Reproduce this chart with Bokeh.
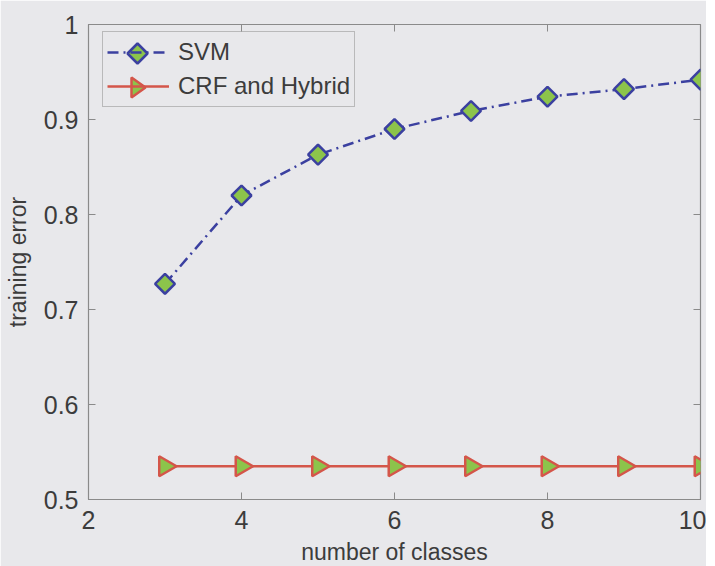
import numpy as np
from bokeh.plotting import figure
from bokeh.models import (LinearAxis, FixedTicker, Legend, LegendItem,
                          CustomJSTickFormatter, PolyAnnotation)
from bokeh.embed import file_html
from bokeh.resources import INLINE

classes = [3, 4, 5, 6, 7, 8, 9, 10]
svm_error = [0.727, 0.820, 0.863, 0.890, 0.909, 0.924, 0.932, 0.942]
crf_error = [0.535, 0.535, 0.535, 0.535, 0.535, 0.535, 0.535, 0.535]
x_ticks = [2, 4, 6, 8, 10]
y_ticks = [0.5, 0.6, 0.7, 0.8, 0.9, 1.0]
y_tick_labels = {0.5: "0.5", 0.6: "0.6", 0.7: "0.7", 0.8: "0.8", 0.9: "0.9", 1.0: "1"}

BG = "#e8e8eb"
TXT = "#3c3c3c"
AX = "#8a8a8a"
FONT = "Liberation Sans"
SVM_C = "#3b40a0"
CRF_C = "#d4564a"
FILL = "#8cc44b"

FW, FH = 612, 475
LEFT, TOP = 88, 24

p = figure(frame_width=FW, frame_height=FH, x_range=(2, 10), y_range=(0.5, 1.0),
           output_backend="svg", toolbar_location=None,
           background_fill_color=BG, border_fill_color=BG,
           min_border_left=LEFT, min_border_top=TOP, min_border_right=6, min_border_bottom=66)
p.xgrid.visible = False
p.ygrid.visible = False
p.outline_line_color = AX
p.outline_line_width = 1.2

for ax in [p.xaxis[0], p.yaxis[0]]:
    ax.major_tick_in = 7
    ax.major_tick_out = 0
    ax.minor_tick_in = 0
    ax.minor_tick_out = 0
    ax.axis_line_color = AX
    ax.major_tick_line_color = AX
    ax.major_label_text_font = FONT
    ax.major_label_text_font_size = "25px"
    ax.major_label_text_color = TXT
    ax.axis_label_text_font = FONT
    ax.axis_label_text_font_size = "23px"
    ax.axis_label_text_font_style = "normal"
    ax.axis_label_text_color = TXT

p.xaxis[0].ticker = FixedTicker(ticks=x_ticks)
p.yaxis[0].ticker = FixedTicker(ticks=y_ticks)
p.yaxis[0].major_label_overrides = y_tick_labels
p.xaxis[0].axis_label = "number of classes"
p.yaxis[0].axis_label = "training error"
p.xaxis[0].major_label_standoff = 11
p.xaxis[0].axis_label_standoff = 7
p.yaxis[0].major_label_standoff = 10
p.yaxis[0].axis_label_standoff = 10

blank = CustomJSTickFormatter(code="return ''")
top = LinearAxis(ticker=FixedTicker(ticks=x_ticks), major_tick_in=7, major_tick_out=0,
                 minor_tick_in=0, minor_tick_out=0, formatter=blank,
                 axis_line_color=None, major_tick_line_color=AX, major_label_standoff=0)
right = LinearAxis(ticker=FixedTicker(ticks=y_ticks), major_tick_in=7, major_tick_out=0,
                   minor_tick_in=0, minor_tick_out=0, formatter=blank,
                   axis_line_color=None, major_tick_line_color=AX, major_label_standoff=0)
p.add_layout(top, "above")
p.add_layout(right, "right")

l1 = p.line(classes, svm_error, line_color=SVM_C, line_width=2.5, line_dash="11 5 2 5")
m1 = p.scatter(classes, svm_error, marker="square", angle=np.pi / 4, size=14, line_color=SVM_C,
               line_width=2.5, fill_color=FILL)
l2 = p.line(classes, crf_error, line_color=CRF_C, line_width=2.5)
m2 = p.scatter(classes, crf_error, marker="triangle", angle=-np.pi / 2, size=20,
               line_color=CRF_C, line_width=2.5, fill_color=FILL)

# legend (glyph markers drawn separately because Bokeh legends ignore marker angle)
PAD, ROW, SP, GW = 4, 32, 2, 62
LEG_H = 2 * PAD + 2 * ROW + SP
LX, LY_TOP = 14, 9
legend = Legend(items=[LegendItem(label="SVM", renderers=[l1]),
                       LegendItem(label="CRF and Hybrid", renderers=[l2])],
                location=(LX, FH - LY_TOP - LEG_H))
legend.margin = 0
legend.padding = PAD
legend.spacing = SP
legend.glyph_width = GW
legend.glyph_height = ROW
legend.label_height = ROW
legend.label_standoff = 9
legend.label_text_font = FONT
legend.label_text_font_size = "24px"
legend.label_text_color = TXT
legend.label_text_baseline = "middle"
legend.background_fill_alpha = 0.0
legend.border_line_color = AX
legend.border_line_width = 1.2
p.add_layout(legend)

# legend markers in frame screen units (y measured up from the frame bottom)
gx = LX + PAD + GW / 2
gy1 = FH - (LY_TOP + PAD + ROW / 2)
gy2 = gy1 - (ROW + SP)
d = 10
p.add_layout(PolyAnnotation(xs=[gx, gx + d, gx, gx - d], ys=[gy1 - d, gy1, gy1 + d, gy1],
                            xs_units="screen", ys_units="screen",
                            fill_color=FILL, fill_alpha=1, line_color=SVM_C, line_alpha=1,
                            line_width=2.5))
p.add_layout(PolyAnnotation(xs=[gx - 6, gx + 8, gx - 6], ys=[gy2 - 10, gy2, gy2 + 10],
                            xs_units="screen", ys_units="screen",
                            fill_color=FILL, fill_alpha=1, line_color=CRF_C, line_alpha=1,
                            line_width=2.5))

open("out.html", "w").write(file_html(p, INLINE))
